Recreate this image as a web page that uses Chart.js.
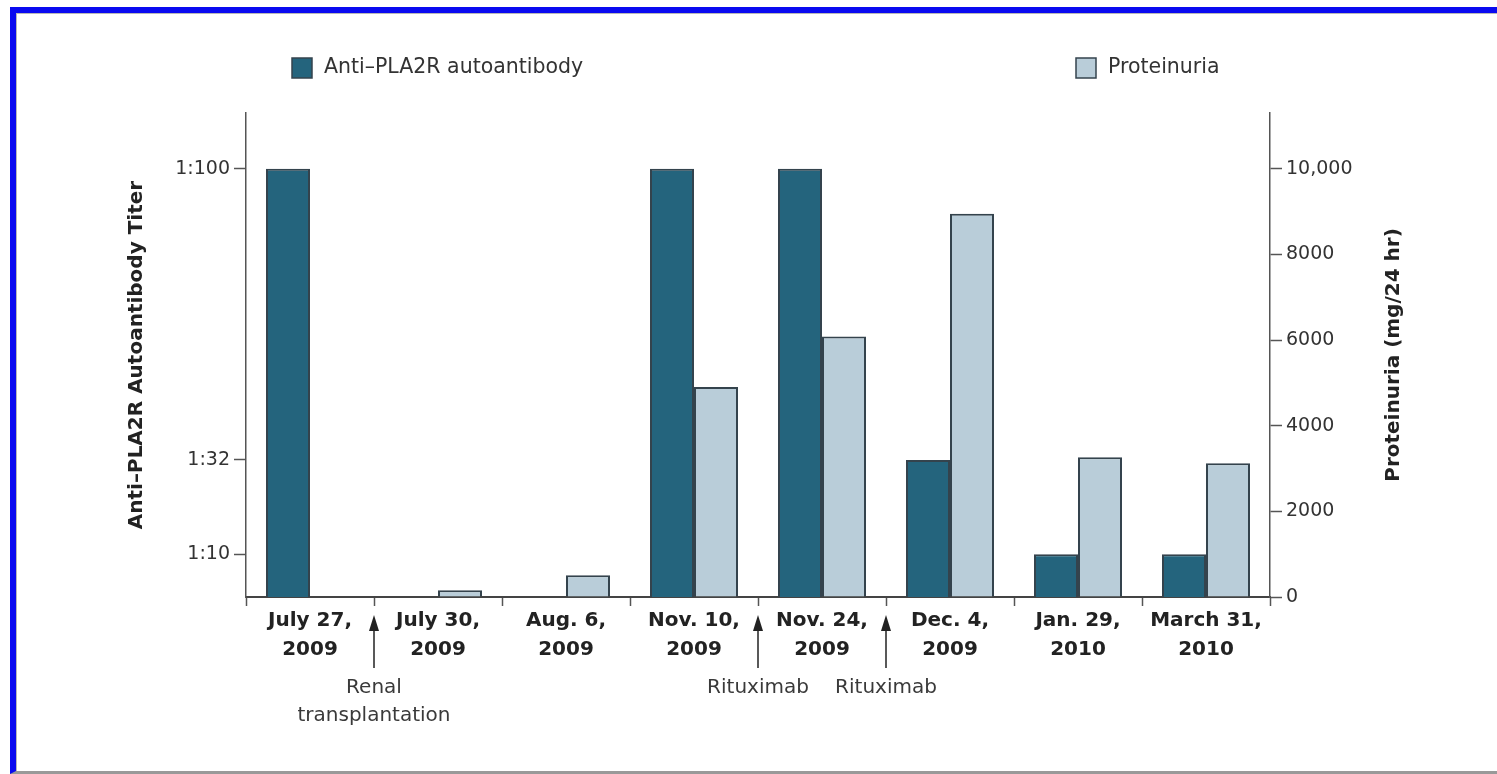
<!DOCTYPE html>
<html>
<head>
<meta charset="utf-8">
<title>Anti-PLA2R titer and proteinuria</title>
<script src="https://cdn.jsdelivr.net/npm/chart.js@4"></script>
<style>
  html, body { margin: 0; padding: 0; background: #fff; }
  #frame {
    position: absolute; left: 10px; top: 7px; width: 1500px; height: 767px;
    box-sizing: border-box;
    border-left: 6px solid #0a0af0; border-top: 6px solid #0a0af0;
    border-bottom: 3px solid #999;
    box-shadow: inset 1px 1px 0 #b8b8b8;
  }
  #wrap { position: absolute; left: 0; top: 0; width: 1497px; height: 774px; }
</style>
</head>
<body>
<div id="frame"></div>
<div id="wrap"><canvas id="grafico"></canvas></div>
<script>
var datas = [
    ['July 27,', '2009'],
    ['July 30,', '2009'],
    ['Aug. 6,', '2009'],
    ['Nov. 10,', '2009'],
    ['Nov. 24,', '2009'],
    ['Dec. 4,', '2009'],
    ['Jan. 29,', '2010'],
    ['March 31,', '2010']
];

// titulo 1:N, guardado como N
var titulo = [100, null, null, 100, 100, 32, 10, 10];
// mg/24 hr
var proteinuria = [null, 160, 510, 4900, 6080, 8950, 3260, 3120];

var ticksTitulo = [10, 32, 100];
var ticksProteinuria = [0, 2000, 4000, 6000, 8000, 10000];

// eventos entre duas datas (indice da data anterior)
var eventos = [
    { depois: 0, texto: ['Renal', 'transplantation'] },
    { depois: 3, texto: ['Rituximab'] },
    { depois: 4, texto: ['Rituximab'] }
];

var fonte = '"DejaVu Sans", sans-serif';
var corEscura = '#24647d';
var corClara = '#b9cdd9';
var corBorda = '#34434d';

// legenda desenhada a mao, um item em cada ponta
var legendaManual = {
    id: 'legendaManual',
    afterDraw: function (chart) {
        var ctx = chart.ctx;
        var posX = [292, 1076];
        ctx.save();
        chart.data.datasets.forEach(function (ds, i) {
            ctx.fillStyle = ds.backgroundColor;
            ctx.fillRect(posX[i], 58, 20, 20);
            ctx.strokeStyle = corBorda;
            ctx.lineWidth = 1.5;
            ctx.strokeRect(posX[i], 58, 20, 20);
            ctx.fillStyle = '#333';
            ctx.font = '20.5px ' + fonte;
            ctx.textBaseline = 'middle';
            ctx.textAlign = 'left';
            ctx.fillText(ds.label, posX[i] + 32, 68);
        });
        ctx.restore();
    }
};

// setas e textos abaixo do eixo x
var setas = {
    id: 'setas',
    afterDraw: function (chart) {
        var ctx = chart.ctx;
        var x = chart.scales.x;
        ctx.save();
        eventos.forEach(function (ev) {
            var px = (x.getPixelForValue(ev.depois) + x.getPixelForValue(ev.depois + 1)) / 2;
            ctx.strokeStyle = '#222';
            ctx.fillStyle = '#222';
            ctx.lineWidth = 1.5;
            ctx.beginPath();
            ctx.moveTo(px, 628);
            ctx.lineTo(px, 668);
            ctx.stroke();
            ctx.beginPath();
            ctx.moveTo(px, 615);
            ctx.lineTo(px - 5, 631);
            ctx.lineTo(px + 5, 631);
            ctx.closePath();
            ctx.fill();

            ctx.fillStyle = '#3a3a3a';
            ctx.font = '20px ' + fonte;
            ctx.textAlign = 'center';
            ctx.textBaseline = 'middle';
            ev.texto.forEach(function (linha, k) {
                ctx.fillText(linha, px, 688 + k * 28);
            });
        });
        ctx.restore();
    }
};

// titulo do eixo direito lido de baixo para cima
var tituloDireito = {
    id: 'tituloDireito',
    afterDraw: function (chart) {
        var ctx = chart.ctx;
        var area = chart.chartArea;
        ctx.save();
        ctx.translate(area.right + 124, (area.top + area.bottom) / 2);
        ctx.rotate(-Math.PI / 2);
        ctx.fillStyle = '#222';
        ctx.font = 'bold 20px ' + fonte;
        ctx.textAlign = 'center';
        ctx.textBaseline = 'middle';
        ctx.fillText('Proteinuria (mg/24 hr)', 0, 0);
        ctx.restore();
    }
};

var grafico = new Chart(document.getElementById('grafico'), {
    type: 'bar',
    data: {
        labels: datas,
        datasets: [{
            label: 'Anti\u2013PLA2R autoantibody',
            data: titulo,
            yAxisID: 'yTitulo',
            backgroundColor: corEscura,
            borderColor: corBorda,
            borderWidth: 2,
            categoryPercentage: 0.6875,
            barPercentage: 1
        }, {
            label: 'Proteinuria',
            data: proteinuria,
            yAxisID: 'yProt',
            backgroundColor: corClara,
            borderColor: corBorda,
            borderWidth: 2,
            categoryPercentage: 0.6875,
            barPercentage: 1
        }]
    },
    options: {
        responsive: true,
        maintainAspectRatio: false,
        animation: false,
        layout: { padding: { top: 113, left: 0, right: 0, bottom: 0 } },
        plugins: {
            legend: { display: false },
            tooltip: { enabled: false }
        },
        scales: {
            x: {
                afterFit: function (s) { s.height = 177; },
                grid: {
                    offset: true,
                    drawOnChartArea: false,
                    tickLength: 9,
                    tickColor: '#555',
                    tickWidth: 1.5
                },
                border: { color: '#444', width: 2 },
                ticks: {
                    autoSkip: false,
                    maxRotation: 0,
                    padding: 0,
                    color: '#222',
                    font: { family: fonte, size: 20, weight: 'bold', lineHeight: 1.45 }
                }
            },
            yTitulo: {
                position: 'left',
                min: 0,
                max: 113,
                afterFit: function (s) { s.width = 246; },
                afterBuildTicks: function (s) {
                    s.ticks = ticksTitulo.map(function (v) { return { value: v }; });
                },
                grid: { drawOnChartArea: false, tickLength: 12, tickColor: '#555', tickWidth: 1.5 },
                border: { color: '#555', width: 1.5 },
                ticks: {
                    padding: 4,
                    color: '#333',
                    font: { family: fonte, size: 19 },
                    callback: function (v) { return '1:' + v; }
                },
                title: {
                    display: true,
                    text: 'Anti\u2013PLA2R Autoantibody Titer',
                    color: '#222',
                    font: { family: fonte, size: 20, weight: 'bold' },
                    padding: { top: 125, bottom: 0 }
                }
            },
            yProt: {
                position: 'right',
                min: 0,
                max: 11300,
                afterFit: function (s) { s.width = 227; },
                afterBuildTicks: function (s) {
                    s.ticks = ticksProteinuria.map(function (v) { return { value: v }; });
                },
                grid: { drawOnChartArea: false, tickLength: 12, tickColor: '#555', tickWidth: 1.5 },
                border: { color: '#555', width: 1.5 },
                ticks: {
                    padding: 4,
                    color: '#333',
                    font: { family: fonte, size: 19 },
                    callback: function (v) {
                        return v >= 10000 ? v.toLocaleString('en-US') : String(v);
                    }
                }
            }
        }
    },
    plugins: [legendaManual, setas, tituloDireito]
});
</script>
</body>
</html>
